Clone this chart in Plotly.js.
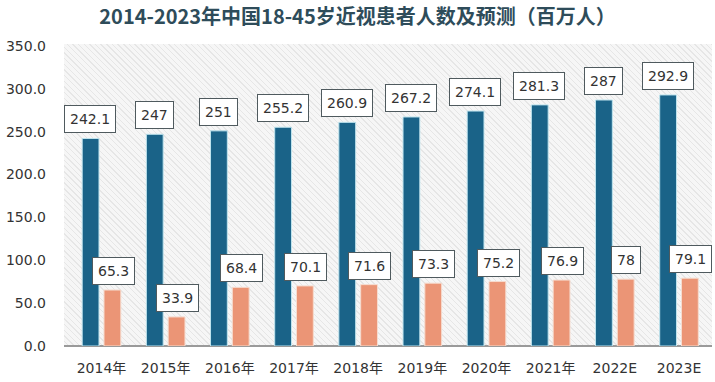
<!DOCTYPE html>
<html>
<head>
<meta charset="utf-8">
<script src="https://cdn.plot.ly/plotly-3.0.1.min.js"></script>
<style>
  html, body { margin:0; padding:0; background:#ffffff; }
  #wrap { position:relative; width:715px; height:382px; }
  #hatch { position:absolute; left:64px; top:44px; width:648px; height:302px;
    background: repeating-linear-gradient(45deg, #f6f6f6 0px, #f6f6f6 3px, #e6e6e6 3px, #e6e6e6 4px); }
  #chart { position:absolute; left:0; top:0; width:715px; height:382px; }
</style>
</head>
<body>
<div id="wrap"><div id="hatch"></div><div id="chart"></div></div>
<script>
const categories = ['2014年','2015年','2016年','2017年','2018年','2019年','2020年','2021年','2022E','2023E'];
const patients18to45 = [242.1, 247, 251, 255.2, 260.9, 267.2, 274.1, 281.3, 287, 292.9];
const secondSeries = [65.3, 33.9, 68.4, 70.1, 71.6, 73.3, 75.2, 76.9, 78, 79.1];
const yTickVals = [0, 50, 100, 150, 200, 250, 300, 350];
const yTickText = ['0.0','50.0','100.0','150.0','200.0','250.0','300.0','350.0'];
const titleText = '2014-2023年中国18-45岁近视患者人数及预测（百万人）';

const blue = '#1a6388';
const orange = '#eb9576';

const traces = [
  { type:'bar', x:categories, y:patients18to45, name:'A',
    marker:{ color:blue, line:{ color:'#bfe4ee', width:1 } }, hoverinfo:'none' },
  { type:'bar', x:categories, y:secondSeries, name:'B',
    marker:{ color:orange, line:{ color:'#f6dccf', width:1 } }, hoverinfo:'none' }
];

const annFont = { family:'DejaVu Sans, Verdana, sans-serif', size:14, color:'#333333' };
const annotations = [];
function addLabels(vals, shift) {
  vals.forEach((v, i) => {
    annotations.push({
      x: categories[i], y: v, xref:'x', yref:'y', text: String(v),
      showarrow:false, xanchor:'center', yanchor:'bottom', xshift: shift, yshift: 5,
      font: annFont, bgcolor:'#ffffff', bordercolor:'#4f5a5e', borderwidth:1, borderpad:5
    });
  });
}
addLabels(patients18to45, -11.5);
addLabels(secondSeries, 11.5);

const layout = {
  width:715, height:382,
  margin:{ l:64, r:3, t:46, b:36 },
  paper_bgcolor:'rgba(0,0,0,0)', plot_bgcolor:'rgba(0,0,0,0)',
  showlegend:false,
  barmode:'group', bargap:0.32, bargroupgap:0.23,
  title:{ text:titleText, x:0.5, xanchor:'center', y:0.955, yanchor:'middle',
    font:{ family:'Noto Sans CJK SC, sans-serif', size:20, color:'#2e4c5a', weight:'bold' } },
  xaxis:{ type:'category', showgrid:false, zeroline:false, showline:false, ticks:'',
    ticklabelstandoff: 12,
    tickfont:{ family:'DejaVu Sans, Noto Sans CJK SC, sans-serif', size:14, color:'#333333' } },
  yaxis:{ range:[0,350], tickvals:yTickVals, ticktext:yTickText, showgrid:false,
    zeroline:true, zerolinecolor:'#9a9a9a', zerolinewidth:2, showline:false, ticks:'',
    ticklabelstandoff: 17,
    tickfont:{ family:'DejaVu Sans, sans-serif', size:14, color:'#333333' } },
  annotations: annotations
};

Plotly.newPlot('chart', traces, layout, { staticPlot:true, displayModeBar:false });
</script>
</body>
</html>
